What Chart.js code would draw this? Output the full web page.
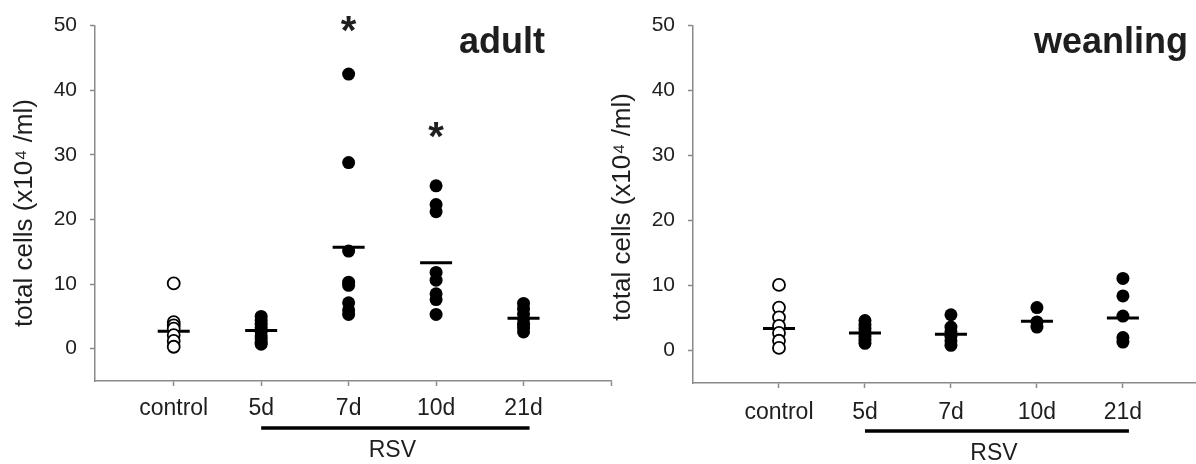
<!DOCTYPE html>
<html>
<head>
<meta charset="utf-8">
<script src="https://cdn.jsdelivr.net/npm/chart.js@4/dist/chart.umd.min.js"></script>
<style>
  body { margin: 0; background: #fff; }
  #wrap { position: relative; width: 1196px; height: 464px; overflow: hidden; }
  #leftBox { position: absolute; left: 0; top: 0; width: 620px; height: 464px; }
  #rightBox { position: absolute; left: 600px; top: 0; width: 596px; height: 464px; }
</style>
</head>
<body>
<div id="wrap">
  <div id="leftBox"><canvas id="adultChart"></canvas></div>
  <div id="rightBox"><canvas id="weanChart"></canvas></div>
</div>
<script>
var categories = ['control', '5d', '7d', '10d', '21d'];
var yTicks = [0, 10, 20, 30, 40, 50];

// adult, one array per group (x10^4 cells/ml)
var adultControl = [10.1, 4.1, 3.6, 3.1, 2.1, 1.2, 0.3];
var adult5d = [5.0, 4.4, 3.8, 3.2, 2.6, 2.0, 1.5, 1.0, 0.7];
var adult7d = [42.5, 28.8, 15.1, 10.3, 9.8, 7.1, 6.0, 5.3];
var adult10d = [25.2, 22.3, 21.2, 11.8, 10.6, 8.5, 7.6, 5.3];
var adult21d = [7.0, 6.2, 5.4, 4.6, 3.8, 3.2, 2.6];
var adultMeans = [2.7, 2.8, 15.7, 13.3, 4.7];
var adultStars = [null, null, 49.8, 33.4, null];

// weanling
var weanControl = [10.1, 6.6, 5.1, 3.8, 2.7, 1.5, 0.4];
var wean5d = [4.6, 4.0, 3.4, 2.8, 2.2, 1.6, 1.1];
var wean7d = [5.5, 3.6, 2.9, 2.2, 1.5, 0.8];
var wean10d = [6.6, 4.4, 3.6];
var wean21d = [11.1, 8.4, 5.3, 2.0, 1.3];
var weanMeans = [3.4, 2.7, 2.5, 4.5, 5.0];
var weanStars = [null, null, null, null, null];

var FONT = '"Liberation Sans", Arial, sans-serif';
var AXIS_GREY = '#8a8a8a';
var TEXT = '#1e1e1e';

function pts(i, arr) {
  return arr.map(function(v) { return { x: i, y: v }; });
}

// panel decorations: y title, panel name, stars, RSV bar
var decorPlugin = {
  id: 'decor',
  afterDraw: function(chart, args, o) {
    var ctx = chart.ctx;
    var xs = chart.scales.x, ys = chart.scales.y;
    var area = chart.chartArea;
    ctx.save();
    ctx.fillStyle = TEXT;

    // y axis title
    ctx.save();
    ctx.translate(o.titleX, o.titleY);
    ctx.rotate(-Math.PI / 2);
    ctx.font = '26px ' + FONT;
    ctx.textAlign = 'center';
    ctx.textBaseline = 'middle';
    ctx.fillText('total cells (x10\u2074 /ml)', 0, 0);
    ctx.restore();

    // panel name
    ctx.font = 'bold 36px ' + FONT;
    ctx.textAlign = 'right';
    ctx.textBaseline = 'alphabetic';
    ctx.fillText(o.name, o.nameX, 53);

    // significance stars
    ctx.font = 'bold 40px ' + FONT;
    ctx.textAlign = 'center';
    o.stars.forEach(function(s, i) {
      if (s === null) return;
      ctx.fillText('*', xs.getPixelForValue(i), ys.getPixelForValue(s) + 0.43 * 40);
    });

    // RSV bar under the infected groups
    var barY = area.bottom + o.barDy;
    ctx.strokeStyle = '#000';
    ctx.lineWidth = 3.5;
    ctx.beginPath();
    ctx.moveTo(xs.getPixelForValue(1), barY);
    ctx.lineTo(xs.getPixelForValue(4) + 6, barY);
    ctx.stroke();
    ctx.font = '23px ' + FONT;
    ctx.textBaseline = 'middle';
    ctx.fillText('RSV', (xs.getPixelForValue(1) + xs.getPixelForValue(4)) / 2, area.bottom + o.barDy + 23);
    ctx.restore();
  }
};

function makeChart(id, groups, means, xMin, xMax, tickVals, yWidth, xHeight, padRight, decor) {
  var ctx = document.getElementById(id).getContext('2d');
  var filled = [];
  for (var i = 1; i < groups.length; i++) filled = filled.concat(pts(i, groups[i]));
  return new Chart(ctx, {
    type: 'scatter',
    data: {
      datasets: [
        {
          label: 'control',
          data: pts(0, groups[0]),
          pointStyle: 'circle',
          pointRadius: 6,
          pointBorderWidth: 1.8,
          pointBackgroundColor: '#fff',
          pointBorderColor: '#000'
        },
        {
          label: 'RSV',
          data: filled,
          pointStyle: 'circle',
          pointRadius: 6.5,
          pointBorderWidth: 0,
          pointBackgroundColor: '#000',
          pointBorderColor: '#000'
        },
        {
          label: 'mean',
          data: means.map(function(m, i) { return { x: i, y: m }; }),
          pointStyle: 'line',
          pointRadius: 16,
          pointBorderWidth: 3,
          pointBorderColor: '#000',
          pointBackgroundColor: '#000'
        }
      ]
    },
    options: {
      responsive: true,
      maintainAspectRatio: false,
      animation: false,
      layout: { autoPadding: false, padding: { top: 24, right: padRight, left: 0, bottom: 0 } },
      plugins: {
        legend: { display: false },
        tooltip: { enabled: false },
        decor: decor
      },
      scales: {
        x: {
          type: 'linear',
          min: xMin,
          max: xMax,
          afterBuildTicks: function(s) { s.ticks = tickVals.map(function(v) { return { value: v }; }); },
          afterFit: function(s) { s.height = xHeight; },
          border: { color: AXIS_GREY, width: 1.5 },
          grid: { drawOnChartArea: false, tickLength: 5, tickColor: AXIS_GREY, tickWidth: 1.5 },
          ticks: {
            autoSkip: false,
            maxRotation: 0,
            padding: decor.labelPad,
            color: TEXT,
            font: { family: FONT, size: 23 },
            callback: function(v) { return categories[v] || ''; }
          }
        },
        y: {
          min: -5,
          max: 50,
          afterBuildTicks: function(s) { s.ticks = yTicks.map(function(v) { return { value: v }; }); },
          afterFit: function(s) { s.width = yWidth; },
          border: { color: AXIS_GREY, width: 1.5 },
          grid: { drawOnChartArea: false, tickLength: 5, tickColor: AXIS_GREY, tickWidth: 1.5 },
          ticks: {
            padding: 13,
            color: TEXT,
            font: { family: FONT, size: 21 }
          }
        }
      }
    },
    plugins: [decorPlugin]
  });
}

makeChart('adultChart',
  [adultControl, adult5d, adult7d, adult10d, adult21d], adultMeans,
  -0.9, 5, [0, 1, 2, 3, 4, 5], 95, 83, 9,
  { name: 'adult', nameX: 545, stars: adultStars, titleX: 25, titleY: 213, barDy: 47, labelPad: 9 });

makeChart('weanChart',
  [weanControl, wean5d, wean7d, wean10d, wean21d], weanMeans,
  -1, 4.85, [0, 1, 2, 3, 4], 93, 81, 0,
  { name: 'weanling', nameX: 588, stars: weanStars, titleX: 23, titleY: 207, barDy: 48, labelPad: 11 });
</script>
</body>
</html>
